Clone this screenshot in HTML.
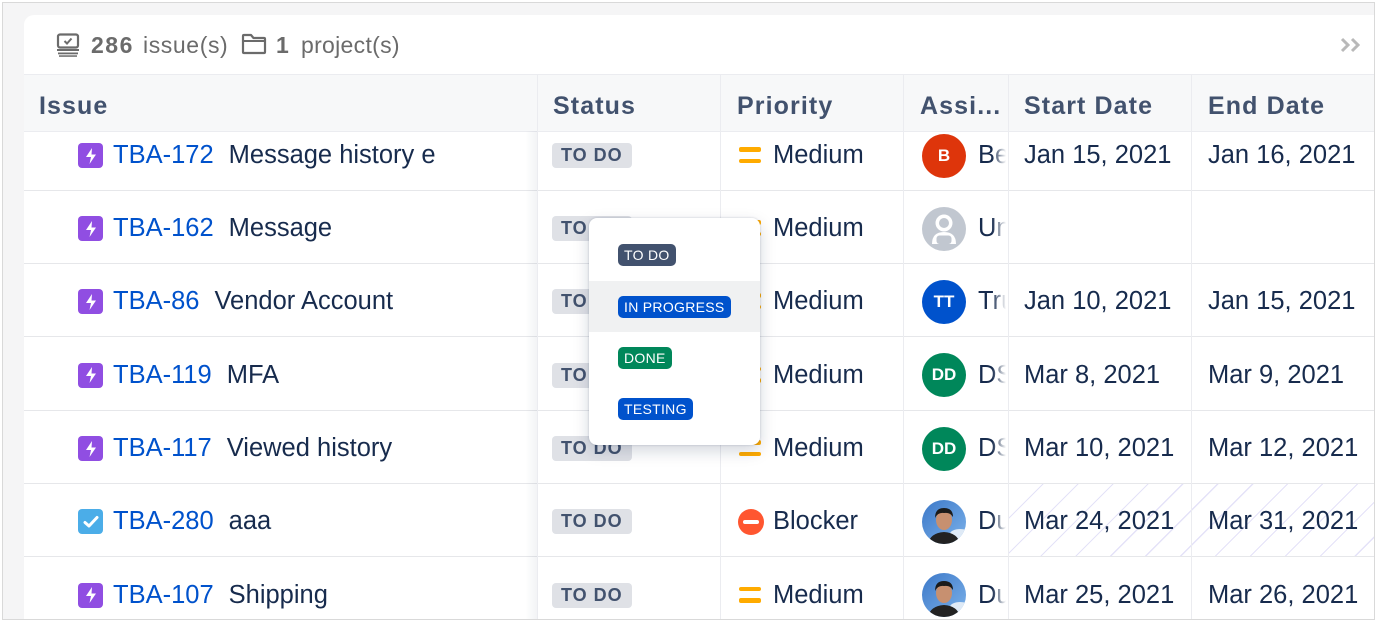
<!DOCTYPE html>
<html><head><meta charset="utf-8">
<style>
*{box-sizing:border-box;margin:0;padding:0}
body{width:1377px;height:622px;background:#fff;font-family:"Liberation Sans",Arial,sans-serif;position:relative;overflow:hidden}
.frame{position:absolute;left:2px;top:2px;width:1373px;height:618px;border:1px solid #d9d9d9;background:#f5f5f6}
.layer{position:absolute;left:0;top:0;width:1377px;height:622px;background:#fff;clip-path:inset(15px 3px 3px 24px round 10px 0 0 0)}
.hl{position:absolute;left:0;width:1377px;height:1px;background:#ebecf0}
.vl{position:absolute;top:75px;width:1px;height:560px;background:#ebecf0}
.r{position:absolute;left:0;width:1377px;height:73px}
.c{position:absolute;top:2px;height:73px;display:flex;align-items:center;white-space:nowrap;font-size:25.5px;color:#172b4d}
.ico{width:25px;height:25px;border-radius:4px;display:flex;align-items:center;justify-content:center;margin-right:10px;flex:none}
.key{color:#0052cc;margin-right:15px}
.badge{height:25px;line-height:25px;padding:0 9px;border-radius:4px;background:#dfe1e6;color:#42526e;font-weight:bold;font-size:18px;letter-spacing:1px}
.pri{width:24px;height:26px;margin-right:11px;position:relative;flex:none}
.b1{position:absolute;left:1px;top:4.5px;width:22px;height:4.5px;border-radius:2px;background:#ffab00}
.b2{position:absolute;left:1px;top:16px;width:22px;height:4.5px;border-radius:2px;background:#ffab00}
.av{width:44px;height:44px;border-radius:50%;display:flex;align-items:center;justify-content:center;color:#fff;font-weight:bold;font-size:17px;flex:none;overflow:hidden}
.nm{position:absolute;left:56px;width:28px;overflow:hidden;color:#172b4d}
.nm:after{content:"";position:absolute;right:0;top:0;width:14px;height:100%;background:linear-gradient(90deg,rgba(255,255,255,0),#fff)}
.hd{position:absolute;top:78px;height:56px;display:flex;align-items:center;font-size:25px;font-weight:bold;color:#42526e;letter-spacing:1.1px;white-space:nowrap}
.pop{position:absolute;left:589px;top:218px;width:171px;height:227px;background:#fff;border-radius:8px;box-shadow:0 6px 16px rgba(9,30,66,.18),0 0 2px rgba(9,30,66,.2);z-index:10;overflow:hidden}
.pb{position:absolute;left:29px;height:22px;line-height:22px;padding:0 6px;border-radius:5px;color:#fff;font-size:14px;letter-spacing:.3px}
.tb{position:absolute;top:32px;font-size:23px;color:#6b6b6b;white-space:nowrap}
</style></head><body>
<div class="frame"></div>
<div class="layer">
  <!-- toolbar -->
  <svg style="position:absolute;left:56px;top:33px" width="24" height="24" viewBox="0 0 24 24">
    <rect x="2" y="1.5" width="20" height="13" rx="2" fill="none" stroke="#6b6b6b" stroke-width="2.2"/>
    <polyline points="8.5,8 11,10.5 15.5,5.5" fill="none" stroke="#6b6b6b" stroke-width="2"/>
    <rect x="1" y="16" width="22" height="2" fill="#6b6b6b"/>
    <rect x="2" y="19.5" width="20" height="1.8" fill="#6b6b6b"/>
    <rect x="3" y="22.3" width="18" height="1.5" fill="#6b6b6b"/>
  </svg>
  <div class="tb" style="left:91px"><b style="letter-spacing:1.5px">286</b></div>
  <div class="tb" style="left:143px;letter-spacing:.6px">issue(s)</div>
  <svg style="position:absolute;left:241px;top:33px" width="26" height="22" viewBox="0 0 26 22">
    <path d="M2 3 Q2 2 3 2 H10 L12.5 5 H23 Q24 5 24 6 V19 Q24 20 23 20 H3 Q2 20 2 19 Z" fill="none" stroke="#6b6b6b" stroke-width="2.2" stroke-linejoin="round"/>
    <line x1="2" y1="8" x2="24" y2="8" stroke="#6b6b6b" stroke-width="2"/>
  </svg>
  <div class="tb" style="left:276px"><b>1</b></div>
  <div class="tb" style="left:301px;letter-spacing:.3px">project(s)</div>
  <svg style="position:absolute;left:1340px;top:37px" width="22" height="16" viewBox="0 0 22 16">
    <polyline points="2,2 8,8 2,14" fill="none" stroke="#b9b9b9" stroke-width="3"/>
    <polyline points="12,2 18,8 12,14" fill="none" stroke="#b9b9b9" stroke-width="3"/>
  </svg>

  <!-- row 1 -->
  <div class="r" style="top:117px">
    <div class="c" style="left:78px"><div class="ico" style="background:#904ee2"><svg width="12" height="16" viewBox="0 0 12 16"><path d="M7 0 L1 9 H6 L4.5 16 L11 6.5 H6.5 Z" fill="#fff"/></svg></div><span class="key">TBA-172</span>Message history e</div>
    <div class="c" style="left:552px"><span class="badge">TO DO</span></div>
    <div class="c" style="left:738px"><div class="pri"><div class="b1"></div><div class="b2"></div></div>Medium</div>
    <div class="c" style="left:922px;width:84px"><div class="av" style="background:#de350b">B</div><span class="nm">Ben</span></div>
    <div class="c" style="left:1024px">Jan 15, 2021</div>
    <div class="c" style="left:1208px">Jan 16, 2021</div>
  </div>
  <!-- row 2 -->
  <div class="r" style="top:190px">
    <div class="c" style="left:78px"><div class="ico" style="background:#904ee2"><svg width="12" height="16" viewBox="0 0 12 16"><path d="M7 0 L1 9 H6 L4.5 16 L11 6.5 H6.5 Z" fill="#fff"/></svg></div><span class="key">TBA-162</span>Message</div>
    <div class="c" style="left:552px"><span class="badge">TO DO</span></div>
    <div class="c" style="left:738px"><div class="pri"><div class="b1"></div><div class="b2"></div></div>Medium</div>
    <div class="c" style="left:922px;width:84px"><div class="av" style="background:#c1c7d0"><svg width="44" height="44" viewBox="0 0 44 44"><circle cx="22" cy="16" r="8.5" fill="#fff"/><path d="M10 37 Q10 25 22 25 Q34 25 34 37 Z" fill="#fff"/><circle cx="22" cy="16" r="5" fill="#c1c7d0"/><rect x="14.5" y="28.5" width="15" height="8.5" rx="3" fill="#c1c7d0"/></svg></div><span class="nm">Unassigned</span></div>
  </div>
  <!-- row 3 -->
  <div class="r" style="top:263.3px">
    <div class="c" style="left:78px"><div class="ico" style="background:#904ee2"><svg width="12" height="16" viewBox="0 0 12 16"><path d="M7 0 L1 9 H6 L4.5 16 L11 6.5 H6.5 Z" fill="#fff"/></svg></div><span class="key">TBA-86</span>Vendor Account</div>
    <div class="c" style="left:552px"><span class="badge">TO DO</span></div>
    <div class="c" style="left:738px"><div class="pri"><div class="b1"></div><div class="b2"></div></div>Medium</div>
    <div class="c" style="left:922px;width:84px"><div class="av" style="background:#0052cc">TT</div><span class="nm">Truong</span></div>
    <div class="c" style="left:1024px">Jan 10, 2021</div>
    <div class="c" style="left:1208px">Jan 15, 2021</div>
  </div>
  <!-- row 4 -->
  <div class="r" style="top:336.7px">
    <div class="c" style="left:78px"><div class="ico" style="background:#904ee2"><svg width="12" height="16" viewBox="0 0 12 16"><path d="M7 0 L1 9 H6 L4.5 16 L11 6.5 H6.5 Z" fill="#fff"/></svg></div><span class="key">TBA-119</span>MFA</div>
    <div class="c" style="left:552px"><span class="badge">TO DO</span></div>
    <div class="c" style="left:738px"><div class="pri"><div class="b1"></div><div class="b2"></div></div>Medium</div>
    <div class="c" style="left:922px;width:84px"><div class="av" style="background:#00875a">DD</div><span class="nm">DSD</span></div>
    <div class="c" style="left:1024px">Mar 8, 2021</div>
    <div class="c" style="left:1208px">Mar 9, 2021</div>
  </div>
  <!-- row 5 -->
  <div class="r" style="top:410px">
    <div class="c" style="left:78px"><div class="ico" style="background:#904ee2"><svg width="12" height="16" viewBox="0 0 12 16"><path d="M7 0 L1 9 H6 L4.5 16 L11 6.5 H6.5 Z" fill="#fff"/></svg></div><span class="key">TBA-117</span>Viewed history</div>
    <div class="c" style="left:552px"><span class="badge">TO DO</span></div>
    <div class="c" style="left:738px"><div class="pri"><div class="b1"></div><div class="b2"></div></div>Medium</div>
    <div class="c" style="left:922px;width:84px"><div class="av" style="background:#00875a">DD</div><span class="nm">DSD</span></div>
    <div class="c" style="left:1024px">Mar 10, 2021</div>
    <div class="c" style="left:1208px">Mar 12, 2021</div>
  </div>
  <!-- row 6 hatch -->
  <div style="position:absolute;left:1009px;top:484px;width:365px;height:73px;background:repeating-linear-gradient(135deg,rgba(255,255,255,0) 0,rgba(255,255,255,0) 23.5px,#e4e2f8 23.5px,#e4e2f8 24.7px)"></div>
  <div class="r" style="top:483.3px">
    <div class="c" style="left:78px"><div class="ico" style="background:#4bade8"><svg width="16" height="14" viewBox="0 0 16 14"><polyline points="2,7.5 6,11 14,2.5" fill="none" stroke="#fff" stroke-width="3" stroke-linecap="round" stroke-linejoin="round"/></svg></div><span class="key">TBA-280</span>aaa</div>
    <div class="c" style="left:552px"><span class="badge">TO DO</span></div>
    <div class="c" style="left:738px"><div class="pri" style="width:26px;margin-right:9px"><div style="position:absolute;left:0;top:0;width:26px;height:26px;border-radius:50%;background:#ff5630"></div><div style="position:absolute;left:5px;top:11px;width:16px;height:4.5px;border-radius:2px;background:#fff"></div></div>Blocker</div>
    <div class="c" style="left:922px;width:84px"><div class="av"><svg width="44" height="44" viewBox="0 0 44 44"><defs><linearGradient id="sk" x1="0" y1="0" x2="1" y2="1"><stop offset="0" stop-color="#3c78c8"/><stop offset="1" stop-color="#7cb2ea"/></linearGradient></defs><rect width="44" height="44" fill="url(#sk)"/><ellipse cx="38" cy="34" rx="10" ry="5" fill="#dfeaf6"/><ellipse cx="22" cy="20" rx="8" ry="10" fill="#c79070"/><path d="M13 18 Q13 8 22 8 Q31 8 31 17 Q28 12 22 13 Q16 12 13 18 Z" fill="#1b1b1b"/><path d="M6 44 Q8 33 22 32 Q36 33 38 44 Z" fill="#222"/></svg></div><span class="nm">Duc</span></div>
    <div class="c" style="left:1024px">Mar 24, 2021</div>
    <div class="c" style="left:1208px">Mar 31, 2021</div>
  </div>
  <!-- row 7 -->
  <div class="r" style="top:556.7px">
    <div class="c" style="left:78px"><div class="ico" style="background:#904ee2"><svg width="12" height="16" viewBox="0 0 12 16"><path d="M7 0 L1 9 H6 L4.5 16 L11 6.5 H6.5 Z" fill="#fff"/></svg></div><span class="key">TBA-107</span>Shipping</div>
    <div class="c" style="left:552px"><span class="badge">TO DO</span></div>
    <div class="c" style="left:738px"><div class="pri"><div class="b1"></div><div class="b2"></div></div>Medium</div>
    <div class="c" style="left:922px;width:84px"><div class="av"><svg width="44" height="44" viewBox="0 0 44 44"><rect width="44" height="44" fill="url(#sk)"/><ellipse cx="38" cy="34" rx="10" ry="5" fill="#dfeaf6"/><ellipse cx="22" cy="20" rx="8" ry="10" fill="#c79070"/><path d="M13 18 Q13 8 22 8 Q31 8 31 17 Q28 12 22 13 Q16 12 13 18 Z" fill="#1b1b1b"/><path d="M6 44 Q8 33 22 32 Q36 33 38 44 Z" fill="#222"/></svg></div><span class="nm">Duc</span></div>
    <div class="c" style="left:1024px">Mar 25, 2021</div>
    <div class="c" style="left:1208px">Mar 26, 2021</div>
  </div>

  <!-- header -->
  <div style="position:absolute;left:0;top:75px;width:1377px;height:56px;background:#f7f8f9"></div>
  <div class="hd" style="left:39px">Issue</div>
  <div class="hd" style="left:553px">Status</div>
  <div class="hd" style="left:737px">Priority</div>
  <div class="hd" style="left:920px">Assi...</div>
  <div class="hd" style="left:1024px">Start Date</div>
  <div class="hd" style="left:1208px">End Date</div>

  <!-- lines -->
  <div class="hl" style="top:74px"></div>
  <div class="hl" style="top:131px"></div>
  <div class="hl" style="top:190px;background:#e6e7ea"></div>
  <div class="hl" style="top:263px;background:#e6e7ea"></div>
  <div class="hl" style="top:336px;background:#e6e7ea"></div>
  <div class="hl" style="top:410px;background:#e6e7ea"></div>
  <div class="hl" style="top:483px;background:#e6e7ea"></div>
  <div class="hl" style="top:556px;background:#e6e7ea"></div>
  <div style="position:absolute;left:525px;top:131px;width:12px;height:500px;background:linear-gradient(90deg,rgba(0,0,0,0),rgba(9,30,66,.05))"></div>
  <div class="vl" style="left:537px"></div>
  <div class="vl" style="left:720px"></div>
  <div class="vl" style="left:903px"></div>
  <div class="vl" style="left:1008px"></div>
  <div class="vl" style="left:1191px"></div>

  <!-- popup -->
  <div class="pop">
    <div style="position:absolute;left:0;top:63px;width:171px;height:51px;background:#f0f1f2"></div>
    <div class="pb" style="top:26px;background:#42526e">TO DO</div>
    <div class="pb" style="top:78px;background:#0052cc">IN PROGRESS</div>
    <div class="pb" style="top:129px;background:#00875a">DONE</div>
    <div class="pb" style="top:180px;background:#0052cc">TESTING</div>
  </div>
</div>
</body></html>
